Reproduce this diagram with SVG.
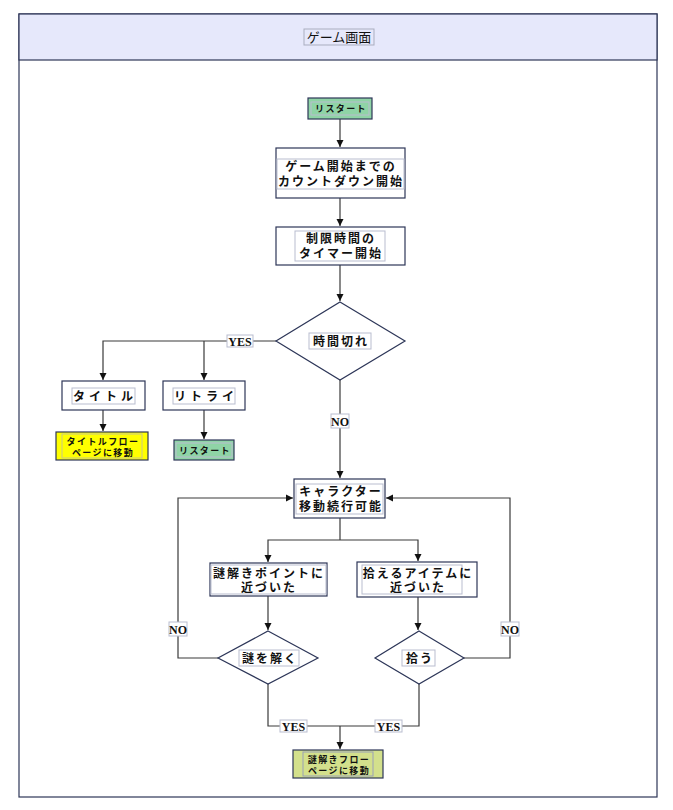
<svg xmlns="http://www.w3.org/2000/svg" width="673" height="810" viewBox="0 0 673 810">
<defs>
<marker id="arr" markerWidth="8" markerHeight="8" refX="7" refY="4" orient="auto" markerUnits="userSpaceOnUse">
<path d="M0,0.5 L7,4 L0,7.5 Z" fill="#111"/>
</marker>
<style>
.node{fill:#fff;stroke:#2d3658;stroke-width:1.2}
.green{fill:#8fd4a6;stroke:#2d3658;stroke-width:1.2}
.yellow{fill:#ffff00;stroke:#2d3658;stroke-width:1.2}
.olive{fill:#d3e08c;stroke:#2d3658;stroke-width:1.2}
.tf{fill:none;stroke:#b9bdcf;stroke-width:1}
.t{font-family:"Liberation Sans","Noto Sans CJK JP",sans-serif;font-weight:bold;font-size:12px;fill:#111;text-anchor:middle;letter-spacing:2px}
.ts{font-family:"Liberation Sans","Noto Sans CJK JP",sans-serif;font-weight:bold;font-size:9px;fill:#111;text-anchor:middle;letter-spacing:1.4px}
.conn{fill:none;stroke:#3a3a3a;stroke-width:1.2}
.lbl{fill:#fff;stroke:#b9bdcf;stroke-width:1}
.lt{font-family:"Liberation Serif",serif;font-weight:bold;font-size:12px;fill:#111;text-anchor:middle}
</style>
</defs>
<rect width="673" height="810" fill="#fff"/>
<g id="frame">
<rect x="19" y="14" width="638" height="783" fill="#fff" stroke="#2d3658" stroke-width="1.2"/>
<rect x="19" y="14" width="638" height="46" fill="#e6e8fb" stroke="#2d3658" stroke-width="1.2"/>
<rect x="304" y="29" width="70" height="16" fill="#e6e8fb" stroke="#a9adbf" stroke-width="1"/>
<text x="339" y="42" style="font-family:'Liberation Sans','Noto Sans CJK JP',sans-serif;font-size:13px;fill:#111;text-anchor:middle">ゲーム画面</text>
</g>
<g id="connectors">
<path class="conn" d="M340,119 V147" marker-end="url(#arr)"/>
<path class="conn" d="M340,198 V226" marker-end="url(#arr)"/>
<path class="conn" d="M340,265 V301" marker-end="url(#arr)"/>
<path class="conn" d="M276,341 H103 V380" marker-end="url(#arr)"/>
<path class="conn" d="M204,341 V380" marker-end="url(#arr)"/>
<path class="conn" d="M103,410 V431" marker-end="url(#arr)"/>
<path class="conn" d="M204,410 V439" marker-end="url(#arr)"/>
<path class="conn" d="M340,380 V478" marker-end="url(#arr)"/>
<path class="conn" d="M340,518 V540"/>
<path class="conn" d="M340,540 H268 V562" marker-end="url(#arr)"/>
<path class="conn" d="M340,540 H418 V561" marker-end="url(#arr)"/>
<path class="conn" d="M268,596 V630" marker-end="url(#arr)"/>
<path class="conn" d="M418,597 V630" marker-end="url(#arr)"/>
<path class="conn" d="M218,658 H178 V498 H293" marker-end="url(#arr)"/>
<path class="conn" d="M464,658 H510 V498 H386" marker-end="url(#arr)"/>
<path class="conn" d="M268,684 V726 H340"/>
<path class="conn" d="M419,684 V726 H340"/>
<path class="conn" d="M340,726 V749" marker-end="url(#arr)"/>
<rect class="lbl" x="227" y="335" width="26" height="12"/>
<text class="lt" x="240" y="345.5">YES</text>
<rect class="lbl" x="331" y="414" width="18" height="14"/>
<text class="lt" x="340" y="425.5">NO</text>
<rect class="lbl" x="169" y="622" width="18" height="14"/>
<text class="lt" x="178" y="633.5">NO</text>
<rect class="lbl" x="501" y="622" width="18" height="14"/>
<text class="lt" x="510" y="633.5">NO</text>
<rect class="lbl" x="280" y="720" width="27" height="12"/>
<text class="lt" x="293.5" y="730.5">YES</text>
<rect class="lbl" x="375" y="720" width="27" height="12"/>
<text class="lt" x="388.5" y="730.5">YES</text>
</g>
<g id="n-restart1">
<rect class="green" x="308" y="98" width="64" height="21"/>
<rect class="tf" x="311" y="102" width="58" height="13"/>
<text class="ts" x="341" y="112">リスタート</text>
</g>
<g id="n-countdown">
<rect class="node" x="276" y="148" width="129" height="50"/>
<rect class="tf" x="277" y="159" width="127" height="30"/>
<text class="t" x="341" y="171">ゲーム開始までの</text>
<text class="t" x="341" y="185.5">カウントダウン開始</text>
</g>
<g id="n-timer">
<rect class="node" x="276" y="227" width="129" height="38"/>
<rect class="tf" x="295" y="231" width="90" height="30"/>
<text class="t" x="341" y="243">制限時間の</text>
<text class="t" x="341" y="257.5">タイマー開始</text>
</g>
<g id="n-timeup">
<polygon class="node" points="340,302 405,341 340,380 276,341"/>
<rect class="tf" x="309" y="333" width="62" height="16"/>
<text class="t" x="341" y="345.5">時間切れ</text>
</g>
<g id="n-title">
<rect class="node" x="62" y="381" width="83" height="29"/>
<rect class="tf" x="72" y="388" width="63" height="16"/>
<text class="t" x="105" y="400.5" style="letter-spacing:4px">タイトル</text>
</g>
<g id="n-retry">
<rect class="node" x="163" y="381" width="82" height="29"/>
<rect class="tf" x="173" y="388" width="62" height="16"/>
<text class="t" x="206" y="400.5" style="letter-spacing:4px">リトライ</text>
</g>
<g id="n-titleflow">
<rect class="yellow" x="56" y="432" width="92" height="28"/>
<rect class="tf" x="62" y="434" width="80" height="24" style="stroke:#c8c88a"/>
<text class="ts" x="103" y="444.5">タイトルフロー</text>
<text class="ts" x="103" y="456">ページに移動</text>
</g>
<g id="n-restart2">
<rect class="green" x="174" y="440" width="60" height="20"/>
<rect class="tf" x="176" y="443" width="56" height="14"/>
<text class="ts" x="205" y="453.5">リスタート</text>
</g>
<g id="n-chara">
<rect class="node" x="294" y="479" width="91" height="39"/>
<rect class="tf" x="296" y="484" width="87" height="30"/>
<text class="t" x="341" y="496">キャラクター</text>
<text class="t" x="341" y="510.5">移動続行可能</text>
</g>
<g id="n-nazo-near">
<rect class="node" x="210" y="563" width="117" height="33"/>
<rect class="tf" x="211" y="565" width="115" height="29"/>
<text class="t" x="269" y="577.5">謎解きポイントに</text>
<text class="t" x="269" y="592">近づいた</text>
</g>
<g id="n-item-near">
<rect class="node" x="357" y="562" width="120" height="35"/>
<rect class="tf" x="362" y="565" width="100" height="29"/>
<text class="t" x="418" y="577.5">拾えるアイテムに</text>
<text class="t" x="418" y="592">近づいた</text>
</g>
<g id="n-solve">
<polygon class="node" points="268,631 318,658 268,684 218,658"/>
<rect class="tf" x="239" y="650" width="60" height="16"/>
<text class="t" x="270" y="662.5">謎を解く</text>
</g>
<g id="n-pick">
<polygon class="node" points="419,631 464,658 419,684 375,658"/>
<rect class="tf" x="402" y="650" width="33" height="16"/>
<text class="t" x="420" y="662.5">拾う</text>
</g>
<g id="n-nazoflow">
<rect class="olive" x="293" y="750" width="90" height="28"/>
<rect class="tf" x="303" y="752" width="70" height="24" style="stroke:#9aa0b8"/>
<text class="ts" x="339" y="762.5">謎解きフロー</text>
<text class="ts" x="339" y="774">ページに移動</text>
</g>
</svg>
